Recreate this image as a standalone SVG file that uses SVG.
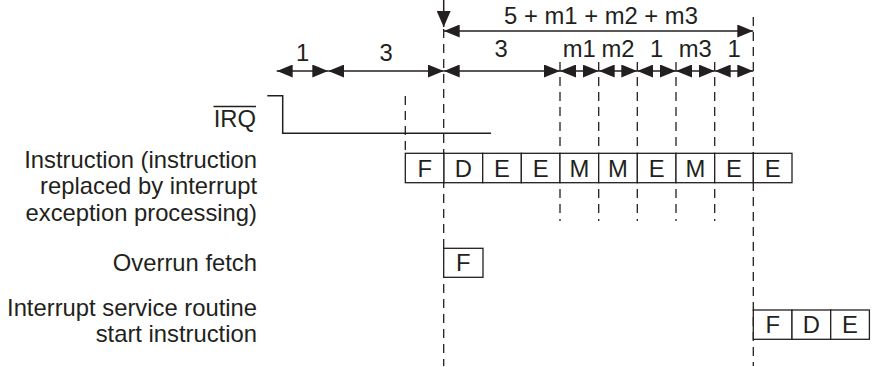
<svg xmlns="http://www.w3.org/2000/svg" width="873" height="367" viewBox="0 0 873 367">
<style>
text{font-family:"Liberation Sans",Arial,sans-serif;font-size:23.8px;fill:#231f20}
.lbl{text-anchor:end}
.c{text-anchor:middle}
.box{fill:#fff;stroke:#231f20;stroke-width:1.3}
.dash{stroke:#231f20;stroke-width:1.3;stroke-dasharray:9 6;fill:none}
.ln{stroke:#231f20;stroke-width:1.5;fill:none}
.arr{stroke:#231f20;stroke-width:1.5;fill:none;marker-start:url(#ah);marker-end:url(#ah)}
</style>
<defs>
<marker id="ah" markerUnits="userSpaceOnUse" markerWidth="16" markerHeight="13" refX="16" refY="6.5" orient="auto-start-reverse" viewBox="0 0 16 13">
<path d="M0,0 L16,6.5 L0,13 z" fill="#231f20"/>
</marker>
<marker id="ah1" markerUnits="userSpaceOnUse" markerWidth="16" markerHeight="14" refX="16" refY="7" orient="auto" viewBox="0 0 16 14">
<path d="M0,0 L16,7 L0,14 z" fill="#231f20"/>
</marker>
</defs>

<g id="labels">
<text class="lbl" x="256" y="126.7">IRQ</text>
<line x1="213.5" y1="106.5" x2="256" y2="106.5" stroke="#231f20" stroke-width="1.3"/>
<text class="lbl" x="257" y="168.3">Instruction (instruction</text>
<text class="lbl" x="257" y="194.4">replaced by interrupt</text>
<text class="lbl" x="257" y="220.5">exception processing)</text>
<text class="lbl" x="257" y="270.5">Overrun fetch</text>
<text class="lbl" x="257" y="315.5">Interrupt service routine</text>
<text class="lbl" x="257" y="341.5">start instruction</text>
</g>

<g id="connectors">
<!-- dashed guides -->
<line class="dash" x1="443.7" y1="29" x2="443.7" y2="366"/>
<line class="dash" x1="753.3" y1="17" x2="753.3" y2="366"/>
<line class="dash" x1="405.3" y1="96" x2="405.3" y2="152"/>
<line class="dash" x1="560" y1="62" x2="560" y2="152"/>
<line class="dash" x1="598.7" y1="62" x2="598.7" y2="152"/>
<line class="dash" x1="637.3" y1="62" x2="637.3" y2="152"/>
<line class="dash" x1="676" y1="62" x2="676" y2="152"/>
<line class="dash" x1="714.7" y1="62" x2="714.7" y2="152"/>
<line class="dash" x1="560" y1="189" x2="560" y2="221"/>
<line class="dash" x1="598.7" y1="189" x2="598.7" y2="221"/>
<line class="dash" x1="637.3" y1="189" x2="637.3" y2="221"/>
<line class="dash" x1="676" y1="189" x2="676" y2="221"/>
<line class="dash" x1="714.7" y1="189" x2="714.7" y2="221"/>
<!-- interrupt arrow -->
<line class="ln" x1="443.7" y1="0" x2="443.7" y2="27" marker-end="url(#ah1)"/>
<!-- total span -->
<line class="arr" x1="443.7" y1="31" x2="753.3" y2="31"/>
<!-- cycle spans -->
<line class="arr" x1="276.7" y1="71" x2="328.3" y2="71"/>
<line class="arr" x1="328.3" y1="71" x2="443.7" y2="71"/>
<line class="arr" x1="443.7" y1="71" x2="560" y2="71"/>
<line class="arr" x1="560" y1="71" x2="598.7" y2="71"/>
<line class="arr" x1="598.7" y1="71" x2="637.3" y2="71"/>
<line class="arr" x1="637.3" y1="71" x2="676" y2="71"/>
<line class="arr" x1="676" y1="71" x2="714.7" y2="71"/>
<line class="arr" x1="714.7" y1="71" x2="753.3" y2="71"/>
<!-- IRQ signal -->
<polyline class="ln" points="267.3,95.7 282.7,95.7 282.7,133.3 491,133.3"/>
</g>

<g id="span-labels">
<text class="c" x="601" y="24">5 + m1 + m2 + m3</text>
<text class="c" x="302.5" y="61">1</text>
<text class="c" x="386" y="61">3</text>
<text class="c" x="501" y="57">3</text>
<text class="c" x="579.3" y="57">m1</text>
<text class="c" x="618" y="57">m2</text>
<text class="c" x="656.7" y="57">1</text>
<text class="c" x="695.3" y="57">m3</text>
<text class="c" x="734" y="57">1</text>
</g>

<g id="instruction">
<rect class="box" x="405.3" y="153.3" width="38.7" height="29.4"/>
<rect class="box" x="444" y="153.3" width="38.7" height="29.4"/>
<rect class="box" x="482.7" y="153.3" width="38.7" height="29.4"/>
<rect class="box" x="521.3" y="153.3" width="38.7" height="29.4"/>
<rect class="box" x="560" y="153.3" width="38.7" height="29.4"/>
<rect class="box" x="598.7" y="153.3" width="38.7" height="29.4"/>
<rect class="box" x="637.3" y="153.3" width="38.7" height="29.4"/>
<rect class="box" x="676" y="153.3" width="38.7" height="29.4"/>
<rect class="box" x="714.7" y="153.3" width="38.7" height="29.4"/>
<rect class="box" x="753.3" y="153.3" width="38.7" height="29.4"/>
<text class="c" x="424.7" y="176.8">F</text>
<text class="c" x="463.3" y="176.8">D</text>
<text class="c" x="502" y="176.8">E</text>
<text class="c" x="540.7" y="176.8">E</text>
<text class="c" x="579.3" y="176.8">M</text>
<text class="c" x="618" y="176.8">M</text>
<text class="c" x="656.7" y="176.8">E</text>
<text class="c" x="695.3" y="176.8">M</text>
<text class="c" x="734" y="176.8">E</text>
<text class="c" x="772.7" y="176.8">E</text>
</g>

<g id="overrun-fetch">
<rect class="box" x="443.7" y="248.3" width="39.3" height="29"/>
<text class="c" x="463.3" y="271.3">F</text>
</g>

<g id="isr-start">
<rect class="box" x="753.3" y="310" width="38.7" height="29.3"/>
<rect class="box" x="792" y="310" width="38.7" height="29.3"/>
<rect class="box" x="830.7" y="310" width="38.7" height="29.3"/>
<text class="c" x="772.7" y="333.3">F</text>
<text class="c" x="811.3" y="333.3">D</text>
<text class="c" x="850" y="333.3">E</text>
</g>
</svg>
